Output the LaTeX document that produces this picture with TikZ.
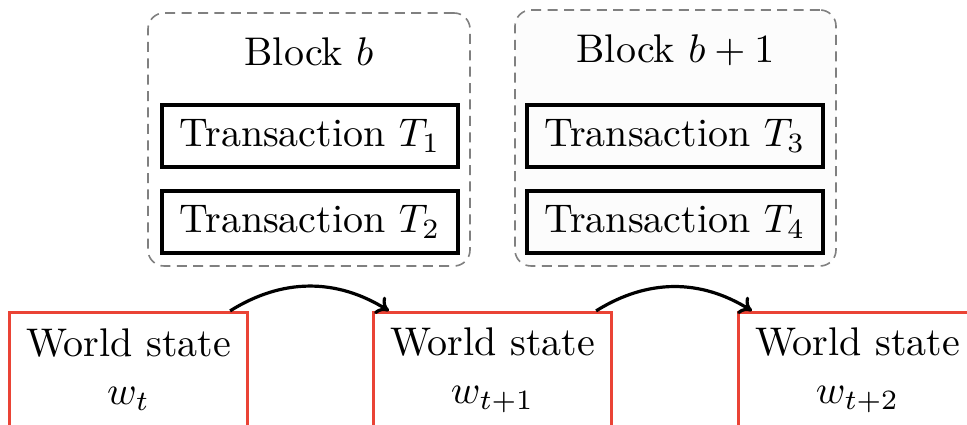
\documentclass[tikz,border=0pt]{standalone}
\usetikzlibrary{arrows.meta}
\definecolor{statered}{RGB}{234,67,53}
\begin{document}
\begin{tikzpicture}[x=0.25pt,y=-0.25pt,
  blockbox/.style={draw=black!50, line width=0.4pt, dash pattern=on 2.5pt off 1.6pt,
    rounded corners=4pt, inner sep=0pt},
  txbox/.style={draw, thick, minimum width=74pt, minimum height=15.5pt, inner sep=0pt},
  statebox/.style={draw=statered, thick, minimum width=59.5pt, minimum height=28.75pt,
    align=center, inner sep=0pt},
  blocktitle/.style={anchor=base, inner sep=0pt},
  flow/.style={-{To[length=3pt,width=5pt]}, thick}
]
\useasboundingbox (0,0) rectangle (967,425);

% blocks of transactions
\node[blockbox, minimum width=80.5pt, minimum height=63.25pt] (blk0) at (309,139.5) {};
\node[blockbox, fill=black!1.2, minimum width=80.25pt, minimum height=64pt] (blk1) at (675.5,138) {};
\node[blocktitle] (title0) at (309,66) {Block $b$};
\node[blocktitle] (title1) at (675.5,63) {Block $b+1$};

\node[txbox] (t1) at (310,136) {Transaction $T_1$};
\node[txbox] (t2) at (310,222) {Transaction $T_2$};
\node[txbox] (t3) at (675,136) {Transaction $T_3$};
\node[txbox] (t4) at (675,222) {Transaction $T_4$};

% world states
\node[statebox] (w0) at (128.5,370) {World state\\$w_t$};
\node[statebox] (w1) at (492.5,370) {World state\\$w_{t+1}$};
\node[statebox] (w2) at (857.5,370) {World state\\$w_{t+2}$};

% state transitions
\draw[flow] ([xshift=-4.75pt]w0.north east) to[bend left=32] ([xshift=4.25pt]w1.north west);
\draw[flow] ([xshift=-4.25pt]w1.north east) to[bend left=32] ([xshift=3.75pt]w2.north west);
\end{tikzpicture}
\end{document}
